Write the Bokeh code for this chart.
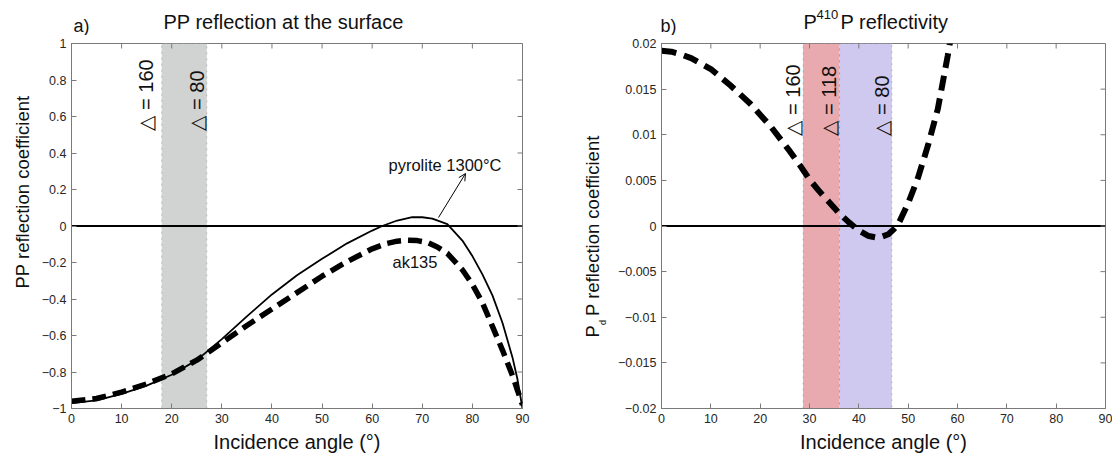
from math import pi
from bokeh.plotting import figure
from bokeh.models import (Range1d, FixedTicker, BoxAnnotation, Span, Label, Arrow, OpenHead)
from bokeh.layouts import row, column
from bokeh.embed import file_html
from bokeh.resources import INLINE

# ---------------- data ----------------
x_ticks = [0, 10, 20, 30, 40, 50, 60, 70, 80, 90]
x_tick_labels = ["0", "10", "20", "30", "40", "50", "60", "70", "80", "90"]

a_y_ticks = [-1, -0.8, -0.6, -0.4, -0.2, 0, 0.2, 0.4, 0.6, 0.8, 1]
a_y_tick_labels = ["−1", "−0.8", "−0.6", "−0.4", "−0.2", "0", "0.2", "0.4", "0.6", "0.8", "1"]

b_y_ticks = [-0.02, -0.015, -0.01, -0.005, 0, 0.005, 0.01, 0.015, 0.02]
b_y_tick_labels = ["−0.02", "−0.015", "−0.01", "−0.005", "0", "0.005", "0.01", "0.015", "0.02"]

# panel a: PP reflection at the surface
pyrolite_angle = [0, 5, 10, 15, 20, 25, 30, 35, 40, 45, 50, 55, 60, 62, 65, 68, 70, 72,
                  75, 78, 80, 82, 84, 86, 88, 89, 90]
pyrolite_rc = [-0.97, -0.955, -0.92, -0.875, -0.815, -0.735, -0.62, -0.495, -0.375, -0.27,
               -0.18, -0.095, -0.025, 0.0, 0.03, 0.048, 0.048, 0.04, 0.01, -0.08, -0.165,
               -0.265, -0.38, -0.53, -0.72, -0.84, -1.0]

ak135_angle = [0, 5, 10, 15, 20, 25, 30, 35, 40, 45, 50, 55, 60, 63, 65, 67, 69, 71, 73,
               75, 78, 80, 82, 84, 86, 88, 89, 90]
ak135_rc = [-0.96, -0.945, -0.91, -0.865, -0.81, -0.735, -0.64, -0.545, -0.455, -0.365,
            -0.275, -0.195, -0.125, -0.095, -0.083, -0.078, -0.08, -0.09, -0.115, -0.15,
            -0.24, -0.32, -0.42, -0.55, -0.68, -0.82, -0.9, -0.98]

# panel b: P410P reflectivity
p410p_angle = [0, 2, 4, 6, 8, 10, 12, 14, 16, 18, 20, 22, 24, 26, 28, 30, 32, 34, 36, 38,
               40, 42, 44, 46, 47, 48, 50, 52, 54, 56, 58, 58.5]
p410p_rc = [0.0192, 0.0191, 0.0188, 0.0184, 0.0178, 0.0172, 0.0163, 0.0154, 0.0144, 0.0134,
            0.0122, 0.0110, 0.0096, 0.0082, 0.0067, 0.0051, 0.0038, 0.0026, 0.0014, 0.0004,
            -0.0005, -0.0011, -0.0013, -0.0009, -0.0004, 0.0002, 0.0025, 0.0053, 0.0088,
            0.0128, 0.0186, 0.0202]

# shaded epicentral-distance bands (incidence angle limits)
band_a = [18, 27]
band_b_red = [28.7, 36.1]
band_b_blue = [36.1, 46.7]

# ---------------- layout constants (page pixels) ----------------
FONT = "Liberation Sans"
TICK_FONT = "'Liberation Sans Narrow', 'Liberation Sans', sans-serif"
AX_COL = "#7a7a7a"
TICK_COL = "#262626"
TXT_COL = "#111111"
W, H = 1112, 458
STRIP_H = 35          # title strip
PAD_TOP = 8           # figure border above each frame
FRAME_TOP = STRIP_H + PAD_TOP   # 43
FRAME_H = 365
PAD_BOTTOM = 50

YLAB_A_W = 34
A_BORDER_L, A_W, A_BORDER_R = 37, 451, 36
A_LEFT = YLAB_A_W + A_BORDER_L                       # 71
B_START = YLAB_A_W + A_BORDER_L + A_W + A_BORDER_R   # 558
YLAB_B_W = 56
B_BORDER_L, B_W, B_BORDER_R = 46, 444, 8
B_LEFT = B_START + YLAB_B_W + B_BORDER_L             # 660


def make_fig(y0, y1, left_border, right_border, frame_w, y_ticks, y_labels):
    p = figure(frame_width=frame_w, frame_height=FRAME_H,
               x_range=Range1d(0, 90), y_range=Range1d(y0, y1),
               output_backend="svg", toolbar_location=None, title_location=None,
               min_border_left=left_border, min_border_right=right_border,
               min_border_top=PAD_TOP, min_border_bottom=PAD_BOTTOM,
               background_fill_color="white", border_fill_color="white",
               outline_line_color=AX_COL)
    p.grid.visible = False
    for ax, ticks, labels in ((p.xaxis[0], x_ticks, x_tick_labels),
                              (p.yaxis[0], y_ticks, y_labels)):
        ax.ticker = FixedTicker(ticks=ticks)
        ax.major_label_overrides = {t: l for t, l in zip(ticks, labels)}
        ax.major_tick_in = 5
        ax.major_tick_out = 0
        ax.minor_tick_line_color = None
        ax.axis_line_color = AX_COL
        ax.major_tick_line_color = AX_COL
        ax.major_label_text_font = TICK_FONT
        ax.major_label_text_font_size = "12.5px"
        ax.major_label_text_color = TICK_COL
        ax.major_label_standoff = 5
    p.xaxis.axis_label = "Incidence angle (°)"
    p.xaxis.axis_label_text_font = FONT
    p.xaxis.axis_label_text_font_size = "20px"
    p.xaxis.axis_label_text_font_style = "normal"
    p.xaxis.axis_label_text_color = TXT_COL
    p.xaxis.axis_label_standoff = 5
    # mirrored box ticks on the top and right edges (outer half of each dash is clipped)
    p.scatter(x_ticks, [y1] * len(x_ticks), marker="dash", size=10, angle=pi / 2,
              line_color=AX_COL, line_width=1)
    p.scatter([90] * len(y_ticks), y_ticks, marker="dash", size=10,
              line_color=AX_COL, line_width=1)
    return p


def label(p, x, y, text, size, angle=0.0, align="left", baseline="middle"):
    p.add_layout(Label(x=x, y=y, text=text, angle=angle, text_align=align,
                       text_baseline=baseline, text_font=FONT, text_font_size=size,
                       text_color=TXT_COL))


def blank(x0, x1, py0, py1, border_top=0, border_bottom=0):
    """Text-only figure whose data units are page pixels (y measured up from page bottom)."""
    f = figure(frame_width=x1 - x0, frame_height=py1 - py0,
               x_range=Range1d(x0, x1), y_range=Range1d(H - py1, H - py0),
               output_backend="svg", toolbar_location=None, title_location=None,
               x_axis_location=None, y_axis_location=None,
               min_border_left=0, min_border_right=0,
               min_border_top=border_top, min_border_bottom=border_bottom,
               outline_line_color=None, background_fill_color="white",
               border_fill_color="white")
    f.grid.visible = False
    return f


# ---------------- panel a ----------------
pa = make_fig(-1, 1, A_BORDER_L, A_BORDER_R, A_W, a_y_ticks, a_y_tick_labels)


def ax_(px):
    return (px - A_LEFT) / A_W * 90


def ay_(py):
    return 1 - (py - FRAME_TOP) / FRAME_H * 2


pa.add_layout(BoxAnnotation(left=band_a[0], right=band_a[1], fill_color="#d1d3d2",
                            fill_alpha=1, line_color="#555555", line_width=1,
                            line_dash="dotted", level="underlay"))
pa.add_layout(Span(location=0, dimension="width", line_color="black", line_width=2,
                   level="underlay"))
pa.line(pyrolite_angle, pyrolite_rc, line_color="black", line_width=1.8)
pa.line(ak135_angle, ak135_rc, line_color="black", line_width=5.5, line_dash="14 7")

label(pa, ax_(145), ay_(130), "△ = 160", "20px", angle=pi / 2)
label(pa, ax_(196), ay_(130), "△ = 80", "20px", angle=pi / 2)
label(pa, ax_(388), ay_(164), "pyrolite 1300°C", "16.5px")
label(pa, ax_(392), ay_(261), "ak135", "16.5px")
pa.add_layout(Arrow(end=OpenHead(size=7, line_width=1, line_color="black"),
                    x_start=ax_(438), y_start=ay_(217), x_end=ax_(465), y_end=ay_(173),
                    line_color="black", line_width=1))

# ---------------- panel b ----------------
pb = make_fig(-0.02, 0.02, B_BORDER_L, B_BORDER_R, B_W, b_y_ticks, b_y_tick_labels)


def bx_(px):
    return (px - B_LEFT) / B_W * 90


def by_(py):
    return 0.02 - (py - FRAME_TOP) / FRAME_H * 0.04


pb.add_layout(BoxAnnotation(left=band_b_red[0], right=band_b_red[1], fill_color="#e8aaae",
                            fill_alpha=1, line_color="#555555", line_width=1,
                            line_dash="dotted", level="underlay"))
pb.add_layout(BoxAnnotation(left=band_b_blue[0], right=band_b_blue[1], fill_color="#cfc9f0",
                            fill_alpha=1, line_color="#555555", line_width=1,
                            line_dash="dotted", level="underlay"))
pb.add_layout(Span(location=0, dimension="width", line_color="black", line_width=2,
                   level="underlay"))
pb.line(p410p_angle, p410p_rc, line_color="black", line_width=6, line_dash="15 8")

label(pb, bx_(791), by_(135), "△ = 160", "20px", angle=pi / 2)
label(pb, bx_(827.5), by_(135), "△ = 118", "20px", angle=pi / 2)
label(pb, bx_(880), by_(135), "△ = 80", "20px", angle=pi / 2)

# ---------------- titles (strip above both panels) ----------------
top = blank(0, W, 0, STRIP_H)
label(top, 73, H - 25, "a)", "18px")
label(top, 163, H - 21, "PP reflection at the surface", "20px")
label(top, 660, H - 25, "b)", "18px")
label(top, 803, H - 21, "P", "20px")
label(top, 816, H - 13.5, "410", "13px")
label(top, 840, H - 21, "P reflectivity", "20px")

# ---------------- y-axis titles (same vertical structure as the panels) ----------------
ylab_a = blank(0, YLAB_A_W, FRAME_TOP, FRAME_TOP + FRAME_H, PAD_TOP, PAD_BOTTOM)
label(ylab_a, 22, H - 288, "PP reflection coefficient", "18.5px", angle=pi / 2)

ylab_b = blank(B_START, B_START + YLAB_B_W, FRAME_TOP, FRAME_TOP + FRAME_H, PAD_TOP, PAD_BOTTOM)
label(ylab_b, 592, H - 337, "P", "18.5px", angle=pi / 2)
label(ylab_b, 602.5, H - 324.5, "d", "9px", angle=pi / 2)
label(ylab_b, 592, H - 315.5, "P reflection coefficient", "18.5px", angle=pi / 2)

layout = column(top, row(ylab_a, pa, ylab_b, pb, spacing=0), spacing=0)
open("out.html", "w").write(file_html(layout, INLINE))
